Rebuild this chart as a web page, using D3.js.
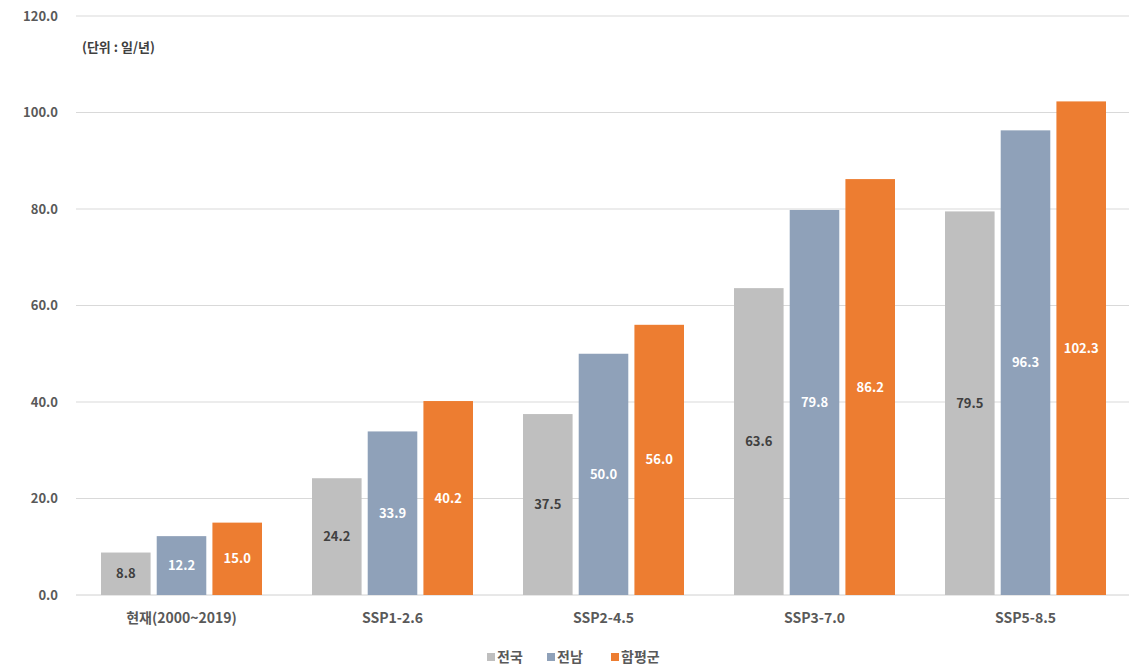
<!DOCTYPE html>
<html><head><meta charset="utf-8">
<script src="https://cdn.jsdelivr.net/npm/d3@7"></script>
<style>body{margin:0;background:#fff}svg{display:block}text{font-family:"Noto Sans CJK KR","Noto Sans",sans-serif}</style>
</head><body><svg id="c" width="1129" height="670"></svg>
<script>
const categories = ["현재(2000~2019)", "SSP1-2.6", "SSP2-4.5", "SSP3-7.0", "SSP5-8.5"];
const seriesNames = ["전국", "전남", "함평군"];
const nationwide = [8.8, 24.2, 37.5, 63.6, 79.5];
const jeonnam = [12.2, 33.9, 50.0, 79.8, 96.3];
const hampyeong = [15.0, 40.2, 56.0, 86.2, 102.3];
const yTicks = [0, 20, 40, 60, 80, 100, 120];
const unitLabel = "(단위 : 일/년)";
const colors = ["#bfbfbf", "#8fa1b9", "#ed7d31"];
const labelColors = ["#404040", "#ffffff", "#ffffff"];

const svg = d3.select("#c");
const mLeft = 76, mRight = 1131, mTop = 16, mBottom = 595;
const y = d3.scaleLinear().domain([0, 120]).range([mBottom, mTop]);
const x0 = d3.scaleBand().domain(categories).range([mLeft, mRight]).padding(0);
const x1 = d3.scaleBand().domain(seriesNames).range([25, x0.bandwidth() - 25]).paddingInner(0.11).paddingOuter(0);

const yAxis = d3.axisLeft(y).tickValues(yTicks).tickSize(0).tickPadding(0).tickFormat(d => d.toFixed(1));
const gy = svg.append("g").attr("transform", `translate(${mLeft},0)`).call(yAxis);
gy.select(".domain").remove();
gy.selectAll("text").attr("x", -18).attr("fill", "#595959").attr("font-size", 13).attr("font-weight", "bold");
svg.append("g").selectAll("line").data(yTicks).join("line")
  .attr("x1", mLeft).attr("x2", 1129).attr("y1", d => y(d)).attr("y2", d => y(d))
  .attr("stroke", d => d === 0 ? "#d0d0d0" : "#d9d9d9").attr("stroke-width", 1);

svg.append("text").attr("x", 82).attr("y", 52).text(unitLabel)
  .attr("font-size", 13).attr("font-weight", "bold").attr("fill", "#404040");

const data = [nationwide, jeonnam, hampyeong];
const groups = svg.append("g").selectAll("g").data(categories).join("g")
  .attr("transform", d => `translate(${x0(d)},0)`);
groups.each(function(cat, i) {
  const g = d3.select(this);
  seriesNames.forEach((s, j) => {
    const v = data[j][i];
    g.append("rect").attr("x", x1(s)).attr("width", x1.bandwidth())
      .attr("y", y(v)).attr("height", y(0) - y(v)).attr("fill", colors[j]);
    g.append("text").attr("x", x1(s) + x1.bandwidth() / 2).attr("y", (y(v) + y(0)) / 2)
      .attr("dy", "0.35em").attr("text-anchor", "middle")
      .attr("font-size", 13).attr("font-weight", "bold").attr("fill", labelColors[j])
      .text(v.toFixed(1));
  });
});

const xAxis = d3.axisBottom(x0).tickSize(0).tickPadding(0);
const gx = svg.append("g").attr("transform", `translate(0,${mBottom})`).call(xAxis);
gx.select(".domain").remove();
gx.selectAll("text").attr("y", 18).attr("dy", "0.71em").attr("fill", "#595959")
  .attr("font-size", 14).attr("font-weight", "bold");

const legend = svg.append("g");
const legendX = [487, 547, 611];
seriesNames.forEach((s, j) => {
  legend.append("rect").attr("x", legendX[j]).attr("y", 653).attr("width", 8).attr("height", 8).attr("fill", colors[j]);
  legend.append("text").attr("x", legendX[j] + 10).attr("y", 657).attr("dy", "0.35em")
    .attr("font-size", 14).attr("font-weight", "bold").attr("fill", "#595959").text(s);
});
</script></body></html>
